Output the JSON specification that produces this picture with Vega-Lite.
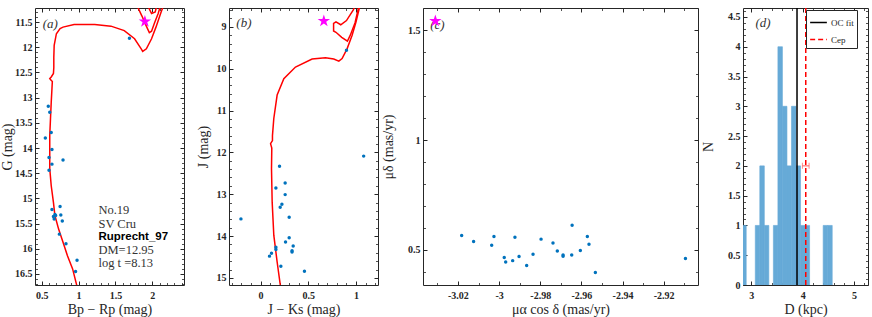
{
"$schema":"https://vega.github.io/schema/vega-lite/v6.json",
"padding":{"left":0,"top":6,"right":0,"bottom":0},
"background":"white",
"bounds":"flush",
"spacing":45,
"config":{
 "view":{"stroke":"#262626","strokeWidth":1},
 "font":"Liberation Serif",
 "axis":{"domain":false,"grid":false,"tickColor":"#262626","tickWidth":1,"labelFont":"Liberation Serif","labelFontSize":10,"labelFontWeight":"bold","labelColor":"#262626","labelFlush":false,"labelOverlap":false,"titleFont":"Liberation Serif","titleFontSize":14,"titleFontWeight":"normal","titleColor":"#262626"}
},
"datasets":{
 "ptsA":[{"x":1.69,"y":11.82},{"x":0.59,"y":13.17},{"x":0.61,"y":13.29},{"x":0.63,"y":13.69},{"x":0.55,"y":13.80},{"x":0.64,"y":14.03},{"x":0.60,"y":14.19},{"x":0.79,"y":14.24},{"x":0.64,"y":14.32},{"x":0.60,"y":14.44},{"x":0.75,"y":15.16},{"x":0.64,"y":15.22},{"x":0.68,"y":15.32},{"x":0.66,"y":15.36},{"x":0.69,"y":15.34},{"x":0.76,"y":15.33},{"x":0.67,"y":15.41},{"x":0.78,"y":15.45},{"x":0.74,"y":15.71},{"x":0.83,"y":15.90},{"x":0.98,"y":16.23},{"x":0.96,"y":16.45}],
 "lineA":[
  {"seg":1,"o":1,"x":0.98,"y":16.75},{"seg":1,"o":2,"x":0.92,"y":16.40},{"seg":1,"o":3,"x":0.85,"y":16.14},{"seg":1,"o":4,"x":0.79,"y":15.87},{"seg":1,"o":5,"x":0.73,"y":15.61},{"seg":1,"o":6,"x":0.68,"y":15.34},{"seg":1,"o":7,"x":0.66,"y":15.08},{"seg":1,"o":8,"x":0.63,"y":14.75},{"seg":1,"o":9,"x":0.61,"y":14.41},{"seg":1,"o":10,"x":0.61,"y":14.08},{"seg":1,"o":11,"x":0.61,"y":13.75},{"seg":1,"o":12,"x":0.62,"y":13.42},{"seg":1,"o":13,"x":0.63,"y":13.09},{"seg":1,"o":14,"x":0.64,"y":12.82},{"seg":1,"o":15,"x":0.645,"y":12.68},{"seg":1,"o":16,"x":0.62,"y":12.64},{"seg":1,"o":17,"x":0.61,"y":12.62},{"seg":1,"o":18,"x":0.63,"y":12.59},{"seg":1,"o":19,"x":0.66,"y":12.52},{"seg":1,"o":20,"x":0.665,"y":12.4},{"seg":1,"o":21,"x":0.665,"y":12.2},{"seg":1,"o":22,"x":0.67,"y":11.96},{"seg":1,"o":23,"x":0.70,"y":11.73},{"seg":1,"o":24,"x":0.75,"y":11.63},{"seg":1,"o":25,"x":0.79,"y":11.60},{"seg":1,"o":26,"x":0.94,"y":11.55},{"seg":1,"o":27,"x":1.22,"y":11.55},{"seg":1,"o":28,"x":1.44,"y":11.58},{"seg":1,"o":29,"x":1.62,"y":11.67},{"seg":1,"o":30,"x":1.76,"y":11.83},{"seg":1,"o":31,"x":1.85,"y":12.03},{"seg":1,"o":32,"x":1.87,"y":12.08},{"seg":1,"o":33,"x":1.92,"y":12.03},{"seg":1,"o":34,"x":1.99,"y":11.83},{"seg":1,"o":35,"x":2.05,"y":11.60},{"seg":1,"o":36,"x":2.12,"y":11.30},{"seg":1,"o":37,"x":2.15,"y":11.18},
  {"seg":2,"o":1,"x":1.795,"y":11.18},{"seg":2,"o":2,"x":1.86,"y":11.38},{"seg":2,"o":3,"x":1.91,"y":11.55},{"seg":2,"o":4,"x":1.96,"y":11.71},{"seg":2,"o":5,"x":1.99,"y":11.68},{"seg":2,"o":6,"x":2.03,"y":11.52},{"seg":2,"o":7,"x":2.08,"y":11.33},{"seg":2,"o":8,"x":2.11,"y":11.18},
  {"seg":3,"o":1,"x":1.94,"y":11.18},{"seg":3,"o":2,"x":1.99,"y":11.33},{"seg":3,"o":3,"x":2.04,"y":11.30},{"seg":3,"o":4,"x":2.06,"y":11.18}],
 "txtA":[{"x":1.27,"y":15.24,"t":"No.19"},{"x":1.27,"y":15.50,"t":"SV Cru"},{"x":1.27,"y":16.02,"t":"DM=12.95"},{"x":1.27,"y":16.28,"t":"log t =8.13"}],
 "ptsB":[{"x":0.90,"y":9.56},{"x":1.08,"y":12.09},{"x":0.199,"y":12.33},{"x":0.258,"y":12.73},{"x":0.161,"y":12.85},{"x":0.258,"y":13.01},{"x":0.224,"y":13.24},{"x":0.206,"y":13.31},{"x":0.30,"y":13.55},{"x":-0.205,"y":13.59},{"x":0.30,"y":14.04},{"x":0.262,"y":14.14},{"x":0.342,"y":14.24},{"x":0.33,"y":14.35},{"x":0.33,"y":14.38},{"x":0.161,"y":14.27},{"x":0.161,"y":14.32},{"x":0.115,"y":14.41},{"x":0.094,"y":14.48},{"x":0.213,"y":14.72},{"x":0.46,"y":14.84}],
 "lineB":[
  {"seg":1,"o":1,"x":0.212,"y":15.25},{"seg":1,"o":2,"x":0.174,"y":14.62},{"seg":1,"o":3,"x":0.139,"y":13.98},{"seg":1,"o":4,"x":0.122,"y":13.19},{"seg":1,"o":5,"x":0.115,"y":12.39},{"seg":1,"o":6,"x":0.118,"y":11.9},{"seg":1,"o":7,"x":0.105,"y":11.79},{"seg":1,"o":8,"x":0.125,"y":11.72},{"seg":1,"o":9,"x":0.125,"y":11.6},{"seg":1,"o":10,"x":0.139,"y":11.19},{"seg":1,"o":11,"x":0.174,"y":10.63},{"seg":1,"o":12,"x":0.244,"y":10.24},{"seg":1,"o":13,"x":0.366,"y":9.96},{"seg":1,"o":14,"x":0.54,"y":9.77},{"seg":1,"o":15,"x":0.68,"y":9.74},{"seg":1,"o":16,"x":0.767,"y":9.77},{"seg":1,"o":17,"x":0.82,"y":9.82},{"seg":1,"o":18,"x":0.854,"y":9.76},{"seg":1,"o":19,"x":0.907,"y":9.52},{"seg":1,"o":20,"x":0.959,"y":9.20},{"seg":1,"o":21,"x":1.0,"y":8.88},{"seg":1,"o":22,"x":1.04,"y":8.5},
  {"seg":2,"o":1,"x":1.03,"y":8.5},{"seg":2,"o":2,"x":0.99,"y":8.9},{"seg":2,"o":3,"x":0.94,"y":9.2},{"seg":2,"o":4,"x":0.91,"y":9.34},{"seg":2,"o":5,"x":0.85,"y":9.25},{"seg":2,"o":6,"x":0.79,"y":9.13},{"seg":2,"o":7,"x":0.765,"y":9.1},{"seg":2,"o":8,"x":0.765,"y":8.92},{"seg":2,"o":9,"x":0.79,"y":8.88},{"seg":2,"o":10,"x":0.84,"y":8.95},{"seg":2,"o":11,"x":0.9,"y":8.85},{"seg":2,"o":12,"x":0.97,"y":8.6},{"seg":2,"o":13,"x":0.99,"y":8.5}],
 "ptsC":[{"x":-3.0182,"y":0.566},{"x":-3.0124,"y":0.538},{"x":-3.0025,"y":0.561},{"x":-3.0036,"y":0.521},{"x":-2.9923,"y":0.558},{"x":-2.9975,"y":0.465},{"x":-2.9968,"y":0.445},{"x":-2.9934,"y":0.451},{"x":-2.9903,"y":0.470},{"x":-2.9866,"y":0.429},{"x":-2.9835,"y":0.480},{"x":-2.9796,"y":0.549},{"x":-2.9738,"y":0.531},{"x":-2.9717,"y":0.495},{"x":-2.9689,"y":0.477},{"x":-2.9689,"y":0.471},{"x":-2.9647,"y":0.477},{"x":-2.9645,"y":0.612},{"x":-2.9571,"y":0.561},{"x":-2.9563,"y":0.526},{"x":-2.9605,"y":0.497},{"x":-2.9532,"y":0.397},{"x":-2.9094,"y":0.461}],
 "hist":[{"x":2.8145,"x2":2.9025,"n":1},{"x":3.0785,"x2":3.1665,"n":1},{"x":3.1665,"x2":3.2545,"n":2},{"x":3.2545,"x2":3.3425,"n":1},{"x":3.4305,"x2":3.5185,"n":1},{"x":3.5185,"x2":3.6065,"n":4},{"x":3.6065,"x2":3.6945,"n":3},{"x":3.6945,"x2":3.7825,"n":2},{"x":3.7825,"x2":3.8705,"n":3},{"x":3.8705,"x2":3.9585,"n":2},{"x":3.9585,"x2":4.0465,"n":1},{"x":4.0465,"x2":4.1345,"n":1},{"x":4.3985,"x2":4.4865,"n":1},{"x":4.4865,"x2":4.5745,"n":1}],
 "rulesD":[{"name":"OC fit","x":3.89},{"name":"Cep","x":4.06}]
},
"hconcat":[
 {"width":149,"height":277,"resolve":{"axis":{"x":"independent","y":"independent"}},
  "layer":[
   {"data":{"name":"lineA"},"mark":{"type":"line","color":"#FF0000","strokeWidth":1.5,"clip":true},
    "encoding":{"x":{"field":"x","type":"quantitative","scale":{"domain":[0.41,2.43],"nice":false,"zero":false},"axis":{"orient":"bottom","values":[0.5,1,1.5,2],"offset":-4,"tickSize":4,"labelPadding":5,"format":"~g","title":"Bp − Rp (mag)","titlePadding":2}},
     "y":{"field":"y","type":"quantitative","scale":{"domain":[11.22,16.72],"nice":false,"zero":false,"reverse":true},"axis":{"orient":"left","values":[11.5,12,12.5,13,13.5,14,14.5,15,15.5,16,16.5],"offset":-4,"tickSize":4,"labelPadding":3,"format":"~g","title":"G (mag)","titlePadding":0}},
     "detail":{"field":"seg"},"order":{"field":"o"}}},
   {"data":{"name":"ptsA"},"mark":{"type":"circle","size":12,"color":"#0072BD","opacity":1},
    "encoding":{"x":{"field":"x","type":"quantitative","scale":{"domain":[0.41,2.43],"nice":false,"zero":false},"axis":{"orient":"top","values":[0.5,1,1.5,2],"offset":-4,"tickSize":4,"labels":false,"title":null}},
     "y":{"field":"y","type":"quantitative","scale":{"domain":[11.22,16.72],"nice":false,"zero":false,"reverse":true},"axis":{"orient":"right","values":[11.5,12,12.5,13,13.5,14,14.5,15,15.5,16,16.5],"offset":-4,"tickSize":4,"labels":false,"title":null}}}},
   {"data":{"values":[{"x":1.90,"y":11.49}]},"mark":{"type":"point","shape":"M0,-1L0.2245,-0.309L0.9511,-0.309L0.3633,0.118L0.5878,0.809L0,0.382L-0.5878,0.809L-0.3633,0.118L-0.9511,-0.309L-0.2245,-0.309Z","filled":true,"color":"#FF00FF","size":170,"opacity":1},
    "encoding":{"x":{"field":"x","type":"quantitative","scale":{"domain":[0.41,2.43],"nice":false,"zero":false},"axis":{"orient":"bottom","values":[0.5,0.6,0.7,0.8,0.9,1,1.1,1.2,1.3,1.4,1.5,1.6,1.7,1.8,1.9,2,2.1,2.2,2.3,2.4],"offset":-2.5,"tickSize":2.5,"tickWidth":0.8,"labels":false,"title":null}},
     "y":{"field":"y","type":"quantitative","scale":{"domain":[11.22,16.72],"nice":false,"zero":false,"reverse":true},"axis":{"orient":"left","values":[11.3,11.4,11.5,11.6,11.7,11.8,11.9,12,12.1,12.2,12.3,12.4,12.5,12.6,12.7,12.8,12.9,13,13.1,13.2,13.3,13.4,13.5,13.6,13.7,13.8,13.9,14,14.1,14.2,14.3,14.4,14.5,14.6,14.7,14.8,14.9,15,15.1,15.2,15.3,15.4,15.5,15.6,15.7,15.8,15.9,16,16.1,16.2,16.3,16.4,16.5,16.6,16.7],"offset":-2.5,"tickSize":2.5,"tickWidth":0.8,"labels":false,"title":null}}}},
   {"data":{"name":"txtA"},"mark":{"type":"text","align":"left","baseline":"middle","font":"Liberation Serif","fontSize":12.5,"color":"#333333"},
    "encoding":{"x":{"field":"x","type":"quantitative","scale":{"domain":[0.41,2.43],"nice":false,"zero":false},"axis":{"orient":"top","values":[0.5,0.6,0.7,0.8,0.9,1,1.1,1.2,1.3,1.4,1.5,1.6,1.7,1.8,1.9,2,2.1,2.2,2.3,2.4],"offset":-2.5,"tickSize":2.5,"tickWidth":0.8,"labels":false,"title":null}},
     "y":{"field":"y","type":"quantitative","scale":{"domain":[11.22,16.72],"nice":false,"zero":false,"reverse":true},"axis":{"orient":"right","values":[11.3,11.4,11.5,11.6,11.7,11.8,11.9,12,12.1,12.2,12.3,12.4,12.5,12.6,12.7,12.8,12.9,13,13.1,13.2,13.3,13.4,13.5,13.6,13.7,13.8,13.9,14,14.1,14.2,14.3,14.4,14.5,14.6,14.7,14.8,14.9,15,15.1,15.2,15.3,15.4,15.5,15.6,15.7,15.8,15.9,16,16.1,16.2,16.3,16.4,16.5,16.6,16.7],"offset":-2.5,"tickSize":2.5,"tickWidth":0.8,"labels":false,"title":null}},
     "text":{"field":"t"}}},
   {"data":{"values":[{"x":1.27,"y":15.76,"t":"Ruprecht_97"}]},"mark":{"type":"text","align":"left","baseline":"middle","font":"Liberation Sans","fontWeight":"bold","fontSize":11.5,"color":"#000000"},
    "encoding":{"x":{"field":"x","type":"quantitative","scale":{"domain":[0.41,2.43],"nice":false,"zero":false},"axis":null},
     "y":{"field":"y","type":"quantitative","scale":{"domain":[11.22,16.72],"nice":false,"zero":false,"reverse":true},"axis":null},"text":{"field":"t"}}},
   {"data":{"values":[{"x":0.617,"y":11.53,"t":"(a)"}]},"mark":{"type":"text","align":"center","baseline":"middle","font":"Liberation Serif","fontStyle":"italic","fontSize":13,"color":"#333333"},
    "encoding":{"x":{"field":"x","type":"quantitative","scale":{"domain":[0.41,2.43],"nice":false,"zero":false},"axis":null},
     "y":{"field":"y","type":"quantitative","scale":{"domain":[11.22,16.72],"nice":false,"zero":false,"reverse":true},"axis":null},"text":{"field":"t"}}}
  ]},
 {"width":149,"height":277,"resolve":{"axis":{"x":"independent","y":"independent"}},
  "layer":[
   {"data":{"name":"lineB"},"mark":{"type":"line","color":"#FF0000","strokeWidth":1.5,"clip":true},
    "encoding":{"x":{"field":"x","type":"quantitative","scale":{"domain":[-0.33,1.23],"nice":false,"zero":false},"axis":{"orient":"bottom","values":[0,0.5,1],"offset":-4,"tickSize":4,"labelPadding":5,"format":"~g","title":"J − Ks (mag)","titlePadding":2}},
     "y":{"field":"y","type":"quantitative","scale":{"domain":[8.55,15.17],"nice":false,"zero":false,"reverse":true},"axis":{"orient":"left","values":[9,10,11,12,13,14,15],"offset":-4,"tickSize":4,"labelPadding":3,"format":"~g","title":"J (mag)","titlePadding":6}},
     "detail":{"field":"seg"},"order":{"field":"o"}}},
   {"data":{"name":"ptsB"},"mark":{"type":"circle","size":12,"color":"#0072BD","opacity":1},
    "encoding":{"x":{"field":"x","type":"quantitative","scale":{"domain":[-0.33,1.23],"nice":false,"zero":false},"axis":{"orient":"top","values":[0,0.5,1],"offset":-4,"tickSize":4,"labels":false,"title":null}},
     "y":{"field":"y","type":"quantitative","scale":{"domain":[8.55,15.17],"nice":false,"zero":false,"reverse":true},"axis":{"orient":"right","values":[9,10,11,12,13,14,15],"offset":-4,"tickSize":4,"labels":false,"title":null}}}},
   {"data":{"values":[{"x":0.663,"y":8.86}]},"mark":{"type":"point","shape":"M0,-1L0.2245,-0.309L0.9511,-0.309L0.3633,0.118L0.5878,0.809L0,0.382L-0.5878,0.809L-0.3633,0.118L-0.9511,-0.309L-0.2245,-0.309Z","filled":true,"color":"#FF00FF","size":170,"opacity":1},
    "encoding":{"x":{"field":"x","type":"quantitative","scale":{"domain":[-0.33,1.23],"nice":false,"zero":false},"axis":{"orient":"bottom","values":[-0.3,-0.2,-0.1,0,0.1,0.2,0.3,0.4,0.5,0.6,0.7,0.8,0.9,1,1.1,1.2],"offset":-2.5,"tickSize":2.5,"tickWidth":0.8,"labels":false,"title":null}},
     "y":{"field":"y","type":"quantitative","scale":{"domain":[8.55,15.17],"nice":false,"zero":false,"reverse":true},"axis":{"orient":"left","values":[8.6,8.8,9,9.2,9.4,9.6,9.8,10,10.2,10.4,10.6,10.8,11,11.2,11.4,11.6,11.8,12,12.2,12.4,12.6,12.8,13,13.2,13.4,13.6,13.8,14,14.2,14.4,14.6,14.8,15],"offset":-2.5,"tickSize":2.5,"tickWidth":0.8,"labels":false,"title":null}}}},
   {"data":{"values":[{"x":-0.174,"y":8.92,"t":"(b)"}]},"mark":{"type":"text","align":"center","baseline":"middle","font":"Liberation Serif","fontStyle":"italic","fontSize":13,"color":"#333333"},
    "encoding":{"x":{"field":"x","type":"quantitative","scale":{"domain":[-0.33,1.23],"nice":false,"zero":false},"axis":{"orient":"top","values":[-0.3,-0.2,-0.1,0,0.1,0.2,0.3,0.4,0.5,0.6,0.7,0.8,0.9,1,1.1,1.2],"offset":-2.5,"tickSize":2.5,"tickWidth":0.8,"labels":false,"title":null}},
     "y":{"field":"y","type":"quantitative","scale":{"domain":[8.55,15.17],"nice":false,"zero":false,"reverse":true},"axis":{"orient":"right","values":[8.6,8.8,9,9.2,9.4,9.6,9.8,10,10.2,10.4,10.6,10.8,11,11.2,11.4,11.6,11.8,12,12.2,12.4,12.6,12.8,13,13.2,13.4,13.6,13.8,14,14.2,14.4,14.6,14.8,15],"offset":-2.5,"tickSize":2.5,"tickWidth":0.8,"labels":false,"title":null}},
     "text":{"field":"t"}}}
  ]},
 {"width":275,"height":277,"resolve":{"axis":{"x":"independent","y":"independent"}},
  "layer":[
   {"data":{"name":"ptsC"},"mark":{"type":"circle","size":12,"color":"#0072BD","opacity":1},
    "encoding":{"x":{"field":"x","type":"quantitative","scale":{"domain":[-3.037,-2.9033],"nice":false,"zero":false},"axis":{"orient":"bottom","values":[-3.02,-3,-2.98,-2.96,-2.94,-2.92],"offset":-4,"tickSize":4,"labelPadding":5,"format":"~g","labelExpr":"replace(datum.label, '−', '-')","title":"μα cos δ (mas/yr)","titlePadding":2}},
     "y":{"field":"y","type":"quantitative","scale":{"domain":[0.34,1.602],"nice":false,"zero":false},"axis":{"orient":"left","values":[0.5,1,1.5],"offset":-4,"tickSize":4,"labelPadding":3,"format":"~g","title":"μδ (mas/yr)","titlePadding":12}}}},
   {"data":{"values":[{"x":-3.030,"y":1.526,"t":"(c)"}]},"mark":{"type":"text","align":"center","baseline":"middle","font":"Liberation Serif","fontStyle":"italic","fontSize":13,"color":"#333333"},
    "encoding":{"x":{"field":"x","type":"quantitative","scale":{"domain":[-3.037,-2.9033],"nice":false,"zero":false},"axis":{"orient":"top","values":[-3.02,-3,-2.98,-2.96,-2.94,-2.92],"offset":-4,"tickSize":4,"labels":false,"title":null}},
     "y":{"field":"y","type":"quantitative","scale":{"domain":[0.34,1.602],"nice":false,"zero":false},"axis":{"orient":"right","values":[0.5,1,1.5],"offset":-4,"tickSize":4,"labels":false,"title":null}},
     "text":{"field":"t"}}},
   {"data":{"values":[{"x":-3.031,"y":1.543}]},"mark":{"type":"point","shape":"M0,-1L0.2245,-0.309L0.9511,-0.309L0.3633,0.118L0.5878,0.809L0,0.382L-0.5878,0.809L-0.3633,0.118L-0.9511,-0.309L-0.2245,-0.309Z","filled":true,"color":"#FF00FF","size":170,"opacity":1},
    "encoding":{"x":{"field":"x","type":"quantitative","scale":{"domain":[-3.037,-2.9033],"nice":false,"zero":false},"axis":{"orient":"bottom","values":[-3.03,-3.02,-3.01,-3,-2.99,-2.98,-2.97,-2.96,-2.95,-2.94,-2.93,-2.92,-2.91],"offset":-2.5,"tickSize":2.5,"tickWidth":0.8,"labels":false,"title":null}},
     "y":{"field":"y","type":"quantitative","scale":{"domain":[0.34,1.602],"nice":false,"zero":false},"axis":{"orient":"left","values":[0.4,0.5,0.6,0.7,0.8,0.9,1,1.1,1.2,1.3,1.4,1.5,1.6],"offset":-2.5,"tickSize":2.5,"tickWidth":0.8,"labels":false,"title":null}}}},
   {"data":{"name":"ptsC"},"mark":{"type":"circle","size":12,"opacity":0},
    "encoding":{"x":{"field":"x","type":"quantitative","scale":{"domain":[-3.037,-2.9033],"nice":false,"zero":false},"axis":{"orient":"top","values":[-3.03,-3.02,-3.01,-3,-2.99,-2.98,-2.97,-2.96,-2.95,-2.94,-2.93,-2.92,-2.91],"offset":-2.5,"tickSize":2.5,"tickWidth":0.8,"labels":false,"title":null}},
     "y":{"field":"y","type":"quantitative","scale":{"domain":[0.34,1.602],"nice":false,"zero":false},"axis":{"orient":"right","values":[0.4,0.5,0.6,0.7,0.8,0.9,1,1.1,1.2,1.3,1.4,1.5,1.6],"offset":-2.5,"tickSize":2.5,"tickWidth":0.8,"labels":false,"title":null}}}}
  ]},
 {"width":125,"height":277,"resolve":{"axis":{"x":"independent","y":"independent"}},
  "layer":[
   {"data":{"name":"hist"},"mark":{"type":"rect","color":"#66AAD7","stroke":"#66AAD7","strokeWidth":0.6,"clip":true},
    "encoding":{"x":{"field":"x","type":"quantitative","scale":{"domain":[2.84,5.27],"nice":false,"zero":false},"axis":{"orient":"bottom","values":[3,4,5],"offset":-4,"tickSize":4,"labelPadding":5,"format":"~g","title":"D (kpc)","titlePadding":2}},
     "x2":{"field":"x2"},
     "y":{"field":"n","type":"quantitative","scale":{"domain":[0,4.65],"nice":false,"zero":false},"axis":{"orient":"left","values":[0,0.5,1,1.5,2,2.5,3,3.5,4,4.5],"offset":-4,"tickSize":4,"labelPadding":3,"format":"~g","title":"N","titlePadding":12}},
     "y2":{"datum":0}}},
   {"data":{"name":"rulesD"},"mark":{"type":"rule","strokeWidth":1.5},
    "encoding":{"x":{"field":"x","type":"quantitative","scale":{"domain":[2.84,5.27],"nice":false,"zero":false},"axis":{"orient":"top","values":[3,4,5],"offset":-4,"tickSize":4,"labels":false,"title":null}},
     "color":{"field":"name","type":"nominal","scale":{"domain":["OC fit","Cep"],"range":["#000000","#FF0000"]},"legend":{"orient":"none","legendX":771,"legendY":2,"title":null,"padding":3,"strokeColor":"#262626","fillColor":"white","labelFont":"Liberation Serif","labelFontSize":9,"labelColor":"#262626","symbolType":"stroke","symbolSize":280,"symbolStrokeWidth":1.5,"rowPadding":2,"labelOffset":3,"cornerRadius":0}},
     "strokeDash":{"field":"name","type":"nominal","scale":{"domain":["OC fit","Cep"],"range":[[1,0],[5,3]]}}}},
   {"data":{"values":[{"x":3.995,"x2":4.125,"y":2}]},"mark":{"type":"rule","color":"#FF5A5A","strokeWidth":1},
    "encoding":{"x":{"field":"x","type":"quantitative","scale":{"domain":[2.84,5.27],"nice":false,"zero":false},"axis":{"orient":"bottom","values":[3,3.2,3.4,3.6,3.8,4,4.2,4.4,4.6,4.8,5,5.2],"offset":-2.5,"tickSize":2.5,"tickWidth":0.8,"labels":false,"title":null}},
     "x2":{"field":"x2"},
     "y":{"field":"y","type":"quantitative","scale":{"domain":[0,4.65],"nice":false,"zero":false},"axis":{"orient":"left","values":[0,0.1,0.2,0.3,0.4,0.5,0.6,0.7,0.8,0.9,1,1.1,1.2,1.3,1.4,1.5,1.6,1.7,1.8,1.9,2,2.1,2.2,2.3,2.4,2.5,2.6,2.7,2.8,2.9,3,3.1,3.2,3.3,3.4,3.5,3.6,3.7,3.8,3.9,4,4.1,4.2,4.3,4.4,4.5,4.6],"offset":-2.5,"tickSize":2.5,"tickWidth":0.8,"labels":false,"title":null}}}},
   {"data":{"values":[{"x":3.995,"y":2},{"x":4.125,"y":2}]},"mark":{"type":"tick","orient":"vertical","color":"#FF5A5A","size":6,"thickness":1},
    "encoding":{"x":{"field":"x","type":"quantitative","scale":{"domain":[2.84,5.27],"nice":false,"zero":false},"axis":{"orient":"top","values":[3,3.2,3.4,3.6,3.8,4,4.2,4.4,4.6,4.8,5,5.2],"offset":-2.5,"tickSize":2.5,"tickWidth":0.8,"labels":false,"title":null}},
     "y":{"field":"y","type":"quantitative","scale":{"domain":[0,4.65],"nice":false,"zero":false},"axis":{"orient":"right","values":[0,0.1,0.2,0.3,0.4,0.5,0.6,0.7,0.8,0.9,1,1.1,1.2,1.3,1.4,1.5,1.6,1.7,1.8,1.9,2,2.1,2.2,2.3,2.4,2.5,2.6,2.7,2.8,2.9,3,3.1,3.2,3.3,3.4,3.5,3.6,3.7,3.8,3.9,4,4.1,4.2,4.3,4.4,4.5,4.6],"offset":-2.5,"tickSize":2.5,"tickWidth":0.8,"labels":false,"title":null}}}},
   {"data":{"values":[{"x":3.228,"y":4.39,"t":"(d)"}]},"mark":{"type":"text","align":"center","baseline":"middle","font":"Liberation Serif","fontStyle":"italic","fontSize":13,"color":"#333333"},
    "encoding":{"x":{"field":"x","type":"quantitative","scale":{"domain":[2.84,5.27],"nice":false,"zero":false},"axis":null},
     "y":{"field":"y","type":"quantitative","scale":{"domain":[0,4.65],"nice":false,"zero":false},"axis":null},"text":{"field":"t"}}}
  ]}
]
}
